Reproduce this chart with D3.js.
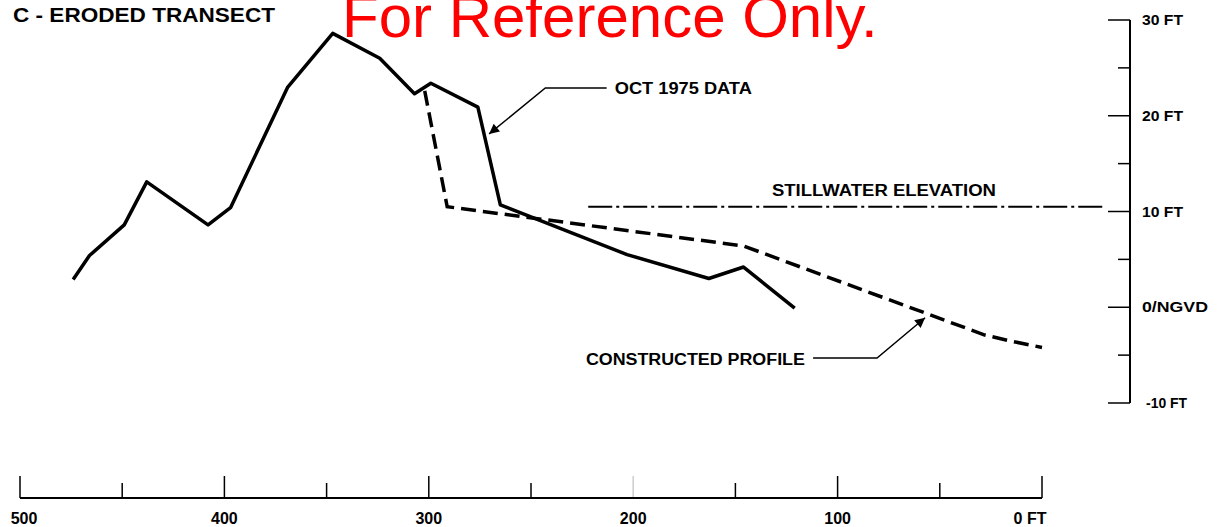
<!DOCTYPE html>
<html>
<head>
<meta charset="utf-8">
<title>C - Eroded Transect</title>
<script src="https://d3js.org/d3.v7.min.js"></script>
<style>
  body { margin: 0; background: #fff; }
  text { font-family: "Liberation Sans", Arial, Helvetica, sans-serif; }
</style>
</head>
<body>
<div id="chart"></div>
<script>
// distance (ft) and elevation (ft NGVD)
const octDist = [474, 466, 449, 438, 408, 397, 369, 347, 324, 307, 299, 276, 265, 203, 163, 146, 121];
const octElev = [2.9, 5.4, 8.6, 13.1, 8.6, 10.4, 23.0, 28.6, 26.0, 22.3, 23.4, 20.9, 10.7, 5.5, 3.0, 4.2, -0.1];

const conDist = [302, 291, 146, 28, 16, 0];
const conElev = [22.6, 10.5, 6.4, -2.9, -3.5, -4.2];

const stillDist = [222, -31];
const stillElev = 10.5;

const xMajor = [500, 400, 300, 200, 100, 0];
const xMinor = [450, 350, 250, 150, 50];
const xLabels = ["500", "400", "300", "200", "100", "0 FT"];
const yMajor = [30, 20, 10, 0, -10];
const yMinor = [25, 15, 5, -5];
const yLabels = ["30 FT", "20 FT", "10 FT", "0/NGVD", "-10 FT"];

const W = 1217, H = 527;
const svg = d3.select("#chart").append("svg")
    .attr("width", W).attr("height", H);

const x = d3.scaleLinear().domain([500, 0]).range([20, 1042]);
const y = d3.scaleLinear().domain([-10, 30]).range([403, 20]);

svg.append("defs").append("marker")
    .attr("id", "head")
    .attr("viewBox", "0 0 10 10")
    .attr("refX", 10).attr("refY", 5)
    .attr("markerWidth", 14).attr("markerHeight", 10)
    .attr("markerUnits", "userSpaceOnUse")
    .attr("orient", "auto")
  .append("path")
    .attr("d", "M0,0 L10,5 L0,10 Z")
    .attr("fill", "#000");

// watermark + title
svg.append("text")
    .attr("x", 342).attr("y", 37)
    .attr("font-size", 60)
    .attr("fill", "#ff0000")
    .text("For Reference Only.");

svg.append("text")
    .attr("x", 13).attr("y", 22)
    .attr("font-size", 20).attr("font-weight", "bold")
    .attr("textLength", 262).attr("lengthAdjust", "spacingAndGlyphs")
    .text("C - ERODED TRANSECT");

// bottom distance scale
const bx = svg.append("g").attr("stroke", "#000");
bx.append("line")
    .attr("x1", x(500)).attr("x2", x(0))
    .attr("y1", 498).attr("y2", 498)
    .attr("stroke-width", 2);
bx.selectAll(".maj").data(xMajor).join("line")
    .attr("x1", d => x(d)).attr("x2", d => x(d))
    .attr("y1", 498).attr("y2", 476)
    .attr("stroke-width", 1.5)
    .attr("stroke-opacity", d => d === 200 ? 0.2 : 1);
bx.selectAll(".min").data(xMinor).join("line")
    .attr("x1", d => x(d)).attr("x2", d => x(d))
    .attr("y1", 498).attr("y2", 483)
    .attr("stroke-width", 1.5);
svg.selectAll(".xl").data(xMajor).join("text")
    .attr("x", (d, i) => x(d) + (i === 0 ? 4 : i === xMajor.length - 1 ? -12 : 0))
    .attr("y", 524)
    .attr("text-anchor", "middle")
    .attr("font-size", 16).attr("font-weight", "bold")
    .text((d, i) => xLabels[i]);

// right elevation scale
const ax = 1130;
const ry = svg.append("g").attr("stroke", "#000");
ry.append("line")
    .attr("x1", ax).attr("x2", ax)
    .attr("y1", y(30)).attr("y2", y(-10))
    .attr("stroke-width", 2);
ry.selectAll(".maj").data(yMajor).join("line")
    .attr("x1", ax - 22).attr("x2", ax)
    .attr("y1", d => y(d)).attr("y2", d => y(d))
    .attr("stroke-width", 1.5);
ry.selectAll(".min").data(yMinor).join("line")
    .attr("x1", ax - 12).attr("x2", ax)
    .attr("y1", d => y(d)).attr("y2", d => y(d))
    .attr("stroke-width", 1.5);
svg.selectAll(".yl").data(yMajor).join("text")
    .attr("x", (d, i) => i === yMajor.length - 1 ? ax + 16 : ax + 12)
    .attr("y", d => y(d) + 5)
    .attr("font-size", 15).attr("font-weight", "bold")
    .attr("textLength", (d, i) => yLabels[i] === "0/NGVD" ? 66 : 41)
    .attr("lengthAdjust", "spacingAndGlyphs")
    .text((d, i) => yLabels[i]);

// profiles
const line = d3.line().x(d => x(d[0])).y(d => y(d[1]));

svg.append("path")
    .datum(stillDist.map(d => [d, stillElev]))
    .attr("d", line)
    .attr("fill", "none").attr("stroke", "#000")
    .attr("stroke-width", 2)
    .attr("stroke-dasharray", "24,4,3,4");

svg.append("path")
    .datum(conDist.map((d, i) => [d, conElev[i]]))
    .attr("d", line)
    .attr("fill", "none").attr("stroke", "#000")
    .attr("stroke-width", 3.5)
    .attr("stroke-dasharray", "15,7");

svg.append("path")
    .datum(octDist.map((d, i) => [d, octElev[i]]))
    .attr("d", line)
    .attr("fill", "none").attr("stroke", "#000")
    .attr("stroke-width", 3.5)
    .attr("stroke-linejoin", "round");

// annotations (distance, elevation)
const octLeader = [[213, 22.9], [243, 22.9], [270.5, 18.1]];
const conLeader = [[112, -5.3], [80.7, -5.3], [57.2, -1.1]];

[octLeader, conLeader].forEach(pts => {
  svg.append("path")
      .datum(pts)
      .attr("d", line)
      .attr("fill", "none").attr("stroke", "#000")
      .attr("stroke-width", 1.5)
      .attr("marker-end", "url(#head)");
});

svg.append("text")
    .attr("x", x(209)).attr("y", y(22.3))
    .attr("font-size", 16).attr("font-weight", "bold")
    .attr("textLength", 137).attr("lengthAdjust", "spacingAndGlyphs")
    .text("OCT 1975 DATA");

svg.append("text")
    .attr("x", x(116)).attr("y", y(-6.0))
    .attr("text-anchor", "end")
    .attr("font-size", 16).attr("font-weight", "bold")
    .attr("textLength", 219).attr("lengthAdjust", "spacingAndGlyphs")
    .text("CONSTRUCTED PROFILE");

svg.append("text")
    .attr("x", x(77.3)).attr("y", y(11.6))
    .attr("text-anchor", "middle")
    .attr("font-size", 16).attr("font-weight", "bold")
    .attr("textLength", 224).attr("lengthAdjust", "spacingAndGlyphs")
    .text("STILLWATER ELEVATION");
</script>
</body>
</html>
